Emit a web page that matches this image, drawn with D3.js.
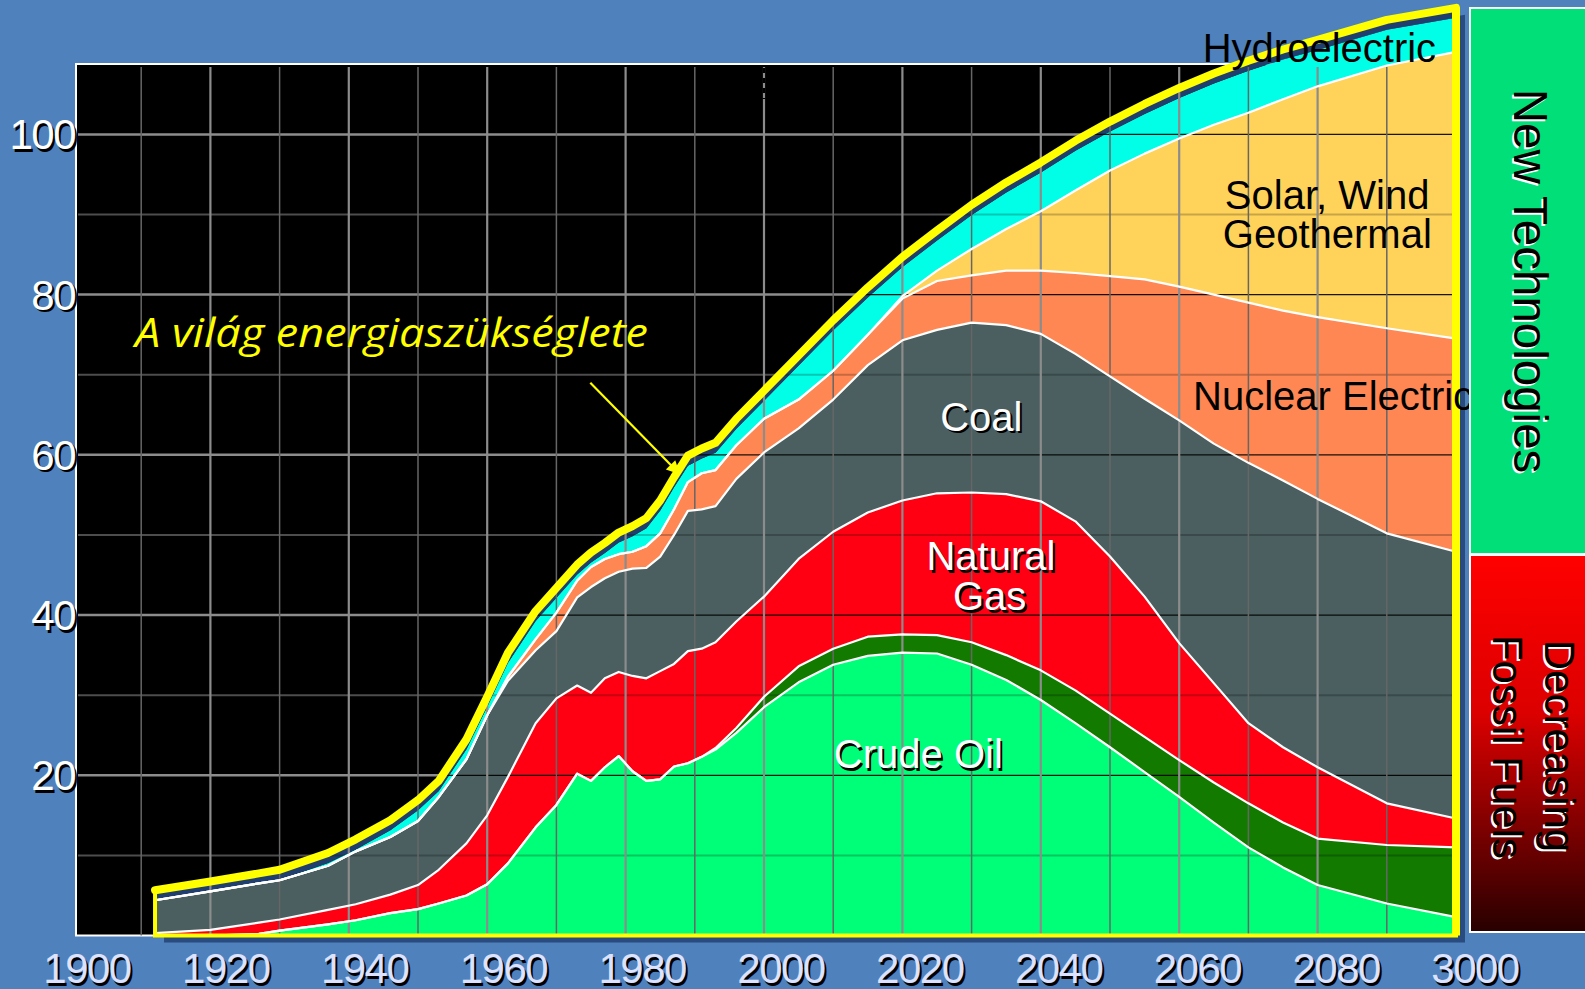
<!DOCTYPE html>
<html>
<head>
    <meta charset="utf-8">
    <style>
        body { margin: 0; background: #4f81bd; }
        svg { display: block; }
        text { font-family: "Liberation Sans", Arial, sans-serif; }
    </style>
</head>
<body>
    <svg width="1585" height="989"></svg>

<script src="https://d3js.org/d3.v7.min.js"></script>
<script>
    // years
    const years = [1912,1920,1927,1930,1937,1941,1946,1950,1953,1957,1960,1963,1967,1970,1973,1975,1977,1979,1981,1983,1985,1987,1989,1991,
                   1993,1996,2000,2005,2010,2015,2020,2025,2030,2035,2040,2045,2050,2055,2060,2065,2070,2075,2080,2090,2100]

    // layer thickness per year (stacked bottom -> top)
    const crudeOil = [0,0,0.2,0.6,1.4,1.9,2.8,3.3,4.0,5.0,6.4,9.0,13.5,16.3,20.2,19.3,21.0,22.4,20.5,19.3,19.5,21.1,21.5,22.3,
                      23.2,25.3,28.5,31.6,33.8,34.9,35.3,35.2,33.8,31.9,29.4,26.5,23.5,20.4,17.3,14.1,11.0,8.5,6.3,4.0,2.3]
    const ngl = [0,0,0,0,0,0,0,0,0,0,0,0,0,0,0,0,0,0,0,0,0,0,0,0,
                 0.2,0.6,1.3,2.0,2.0,2.4,2.3,2.3,2.8,3.1,3.7,4.1,4.2,4.4,4.6,5.0,5.5,5.6,5.8,7.3,8.7]
    const naturalGas = [0.3,0.7,1.4,1.4,1.8,2.0,2.3,3.0,4.2,6.5,8.6,10.8,13.0,13.3,11.0,11.0,11.1,10.5,11.9,12.8,13.5,12.8,14.0,13.5,
                        13.2,13.3,12.5,13.4,14.6,15.5,16.7,17.7,18.7,20.1,21.1,21.1,19.6,17.5,14.6,12.4,10.0,9.4,8.9,5.2,3.6]
    const coal = [4.1,4.8,4.9,4.9,5.5,6.6,7.2,8.0,9.1,10.5,12.5,12.0,9.1,8.4,11.0,13.2,12.5,12.5,13.4,13.8,14.3,16.1,17.5,17.4,
                  17.0,17.8,18.0,16.3,16.5,18.4,20.0,20.4,21.2,21.1,20.9,20.9,22.5,24.7,27.8,29.9,32.5,33.3,33.5,33.7,33.3]
    const nuclear = [0,0,0,0,0,0,0,0,0,0,0,0.5,1.4,2.3,2.1,2.5,2.4,2.2,2.1,2.7,2.9,3.2,3.6,4.5,
                     4.5,4.2,4.2,3.6,3.6,3.8,5.2,6.1,5.9,6.8,7.9,10.1,12.5,14.9,16.7,18.6,20.0,21.2,22.7,25.6,26.6]
    const solarWind = [0,0,0,0,0,0,0,0,0,0,0,0,0,0,0,0,0,0,0,0,0,0,0,0,
                       0,0,0,0,0,0,0.3,1.3,3.3,5.2,7.4,10.3,13.2,15.7,18.5,21.2,23.7,26.4,28.8,32.8,35.8]
    const hydro = [0,0,0,0.05,0.35,0.25,0.85,1.35,0.75,1.25,1.05,1.75,2.25,1.85,0.75,0.55,0.75,1.45,1.95,2.25,2.85,2.75,2.05,1.85,
                   2.15,2.05,2.25,4.25,5.05,4.65,3.65,3.75,4.25,4.55,4.85,4.95,4.85,4.95,5.05,5.15,5.25,4.95,4.55,4.45,4.25]
    const other = [1.25,1.25,1.25,1.25,1.25,1.25,1.25,1.25,1.25,1.25,1.25,1.25,1.25,1.25,1.25,1.25,1.25,1.25,1.25,1.25,1.25,1.25,1.25,1.25,
                   1.25,1.25,1.25,1.25,1.25,1.25,1.25,1.25,1.25,1.25,1.25,1.25,1.25,1.25,1.25,1.25,1.25,1.25,1.25,1.25,1.25]

    const yTicks = [20, 40, 60, 80, 100]
    const xTickYears = [1900,1920,1940,1960,1980,2000,2020,2040,2060,2080,2100]
    const xTickLabels = ["1900","1920","1940","1960","1980","2000","2020","2040","2060","2080","3000"]

    let svg = d3.select("svg")

    let x = d3.scaleLinear().domain([1900, 2100]).range([72, 1456])
    let xLab = d3.scaleLinear().domain([1900, 2100]).range([87, 1475])
    let y = d3.scaleLinear().domain([0, 100]).range([935.5, 134.4])

    let keys = ["oil", "ngl", "gas", "coal", "nuclear", "solar", "hydro", "other"]
    let colors = {
        oil: "#00ff78", ngl: "#137a00", gas: "#ff0013", coal: "#4b5f60",
        nuclear: "#ff8753", solar: "#ffd35a", hydro: "#00ffe6", other: "#213f6e"
    }

    let rows = years.map((yr, i) => ({
        year: yr, oil: crudeOil[i], ngl: ngl[i], gas: naturalGas[i], coal: coal[i],
        nuclear: nuclear[i], solar: solarWind[i], hydro: hydro[i], other: other[i]
    }))
    let series = d3.stack().keys(keys)(rows)
    let last = series[series.length - 1]
    let end = last[last.length - 1]

    let area = d3.area()
        .x(d => x(d.data.year))
        .y0(d => y(d[0]))
        .y1(d => y(d[1]))
    let topLine = d3.line()
        .x(d => x(d.data.year))
        .y(d => y(d[1]))
    let totalArea = d3.area()
        .x(d => x(d.data.year))
        .y0(y(0))
        .y1(d => y(d[1]))

    let defs = svg.append("defs")
    defs.append("clipPath").attr("id", "inside")
        .append("path").attr("d", totalArea(last))
    let grad = defs.append("linearGradient").attr("id", "redfade")
        .attr("x1", 0).attr("y1", 0).attr("x2", 0).attr("y2", 1)
    grad.append("stop").attr("offset", "0").attr("stop-color", "#ff0000")
    grad.append("stop").attr("offset", "0.42").attr("stop-color", "#dc0000")
    grad.append("stop").attr("offset", "1").attr("stop-color", "#280000")
    defs.append("marker").attr("id", "head")
        .attr("viewBox", "0 0 10 10").attr("refX", 9).attr("refY", 5)
        .attr("markerWidth", 7).attr("markerHeight", 6)
        .attr("markerUnits", "strokeWidth")
        .attr("orient", "auto")
        .append("path").attr("d", "M0,0 L10,5 L0,10 z").style("fill", "#ffff00")

    svg.append("rect").attr("width", 1585).attr("height", 989).style("fill", "#4f81bd")

    // drop shadow of the whole stack
    svg.append("path")
        .attr("d", totalArea(last))
        .attr("transform", "translate(9,7)")
        .style("fill", "#2a4b7e")

    // plot frame
    svg.append("rect")
        .attr("x", 76).attr("y", 64)
        .attr("width", x(2100) - 76).attr("height", y(0) - 64)
        .style("fill", "#000")
        .style("stroke", "#fff")
        .style("stroke-width", 2)

    let hVals = d3.range(10, 101, 10)
    let vYears = d3.range(1910, 2091, 10)

    // grid under the areas
    svg.append("g")
        .selectAll("line")
        .data(hVals)
        .join("line")
        .attr("x1", 78).attr("x2", x(2100))
        .attr("y1", d => y(d)).attr("y2", d => y(d))
        .style("stroke", d => d % 20 == 0 ? "#8c8c8c" : "#4d4d4d")
        .style("stroke-width", d => d % 20 == 0 ? 2.5 : 2)

    // stacked areas
    svg.append("g")
        .selectAll("path")
        .data(series)
        .join("path")
        .attr("d", area)
        .style("fill", d => colors[d.key])

    // grid seen on top of the areas
    let over = svg.append("g").attr("clip-path", "url(#inside)")
    over.selectAll("line")
        .data(hVals)
        .join("line")
        .attr("x1", 78).attr("x2", x(2100))
        .attr("y1", d => y(d)).attr("y2", d => y(d))
        .style("stroke", "#000")
        .style("stroke-opacity", d => d % 20 == 0 ? 0.9 : 0.22)
        .style("stroke-width", d => d % 20 == 0 ? 1.3 : 2)

    svg.append("g")
        .selectAll("line")
        .data(vYears)
        .join("line")
        .attr("x1", d => x(d)).attr("x2", d => x(d))
        .attr("y1", 67).attr("y2", y(0))
        .style("stroke", d => d % 20 == 0 ? "#8c8c8c" : "#666")
        .style("stroke-width", d => d % 20 == 0 ? 2.2 : 1.5)

    svg.append("line")
        .attr("x1", x(2000)).attr("x2", x(2000))
        .attr("y1", 68).attr("y2", 99)
        .style("stroke", "#000")
        .style("stroke-width", 2.5)
        .style("stroke-dasharray", "5,5")

    // white borders between layers
    svg.append("g")
        .selectAll("path")
        .data(series.filter(s => s.key != "hydro" && s.key != "other"))
        .join("path")
        .attr("d", topLine)
        .style("fill", "none")
        .style("stroke", "#fff")
        .style("stroke-width", 2.2)
        .style("stroke-linejoin", "round")

    // yellow outline of the total
    svg.append("path")
        .attr("d", totalArea(last))
        .style("fill", "none")
        .style("stroke", "#ffff00")
        .style("stroke-width", 4)
    svg.append("line")
        .attr("x1", x(2100)).attr("x2", x(2100))
        .attr("y1", y(end[1])).attr("y2", y(0))
        .style("stroke", "#ffff00")
        .style("stroke-width", 8)
    svg.append("path")
        .attr("d", topLine(last))
        .style("fill", "none")
        .style("stroke", "#ffff00")
        .style("stroke-width", 8)
        .style("stroke-linejoin", "round")
        .style("stroke-linecap", "round")

    function shadowText(g, px, py, str, o) {
        let t = g.append("g")
        ;[[o.sx || 2, o.sy || 2.5, "#000"], [0, 0, o.fill]].forEach(p => {
            t.append("text")
                .attr("x", px + p[0]).attr("y", py + p[1])
                .attr("text-anchor", o.anchor || "start")
                .style("font-size", o.size + "px")
                .style("letter-spacing", (o.ls || 0) + "px")
                .style("fill", p[2])
                .text(str)
        })
    }

    // axis labels
    let axes = svg.append("g")
    yTicks.forEach(v => shadowText(axes, 75, y(v) + 15, String(v), {anchor: "end", size: 42, ls: -1.5, fill: "#fff"}))
    xTickYears.forEach((yr, i) => shadowText(axes, xLab(yr), 983, xTickLabels[i], {anchor: "middle", size: 42, ls: -1.5, fill: "#dce2ff"}))

    // labels inside the chart
    let labs = svg.append("g")
    shadowText(labs, x(2031.4), y(63.0), "Coal", {anchor: "middle", size: 40, fill: "#fff"})
    shadowText(labs, x(2032.8), y(45.6), "Natural", {anchor: "middle", size: 40, fill: "#fff"})
    shadowText(labs, x(2032.6), y(40.6), "Gas", {anchor: "middle", size: 40, fill: "#fff"})
    shadowText(labs, x(2022.3), y(20.9), "Crude Oil", {anchor: "middle", size: 40, fill: "#fff"})

    let black = [
        ["Hydroelectric", 2063.4, 109.0],
        ["Solar, Wind", 2066.6, 90.7],
        ["Geothermal", 2066.3, 85.8],
        ["Nuclear Electric", 2062.0, 65.6]
    ]
    labs.selectAll(".blk")
        .data(black)
        .join("text")
        .attr("class", "blk")
        .attr("x", d => x(d[1]))
        .attr("y", d => y(d[2]))
        .style("font-size", "40px")
        .style("fill", "#000")
        .text(d => d[0])

    labs.append("text")
        .attr("x", x(1909.1)).attr("y", y(73.5))
        .attr("textLength", 513)
        .attr("lengthAdjust", "spacingAndGlyphs")
        .style("font-family", "'Open Sans', 'Noto Sans', sans-serif")
        .style("font-style", "italic")
        .style("font-size", "40px")
        .style("fill", "#ffff00")
        .text("A világ energiaszükséglete")

    labs.append("line")
        .attr("x1", x(1974.9)).attr("y1", y(69.0))
        .attr("x2", x(1987.7)).attr("y2", y(57.7))
        .style("stroke", "#ffff00")
        .style("stroke-width", 2.2)
        .attr("marker-end", "url(#head)")

    // side panel
    let side = svg.append("g")
    side.append("rect")
        .attr("x", 1470).attr("y", 8).attr("width", 117).attr("height", 546)
        .style("fill", "#00df78").style("stroke", "#f0fff4").style("stroke-width", 2)
    side.append("rect")
        .attr("x", 1470).attr("y", 555).attr("width", 117).attr("height", 377)
        .style("fill", "url(#redfade)").style("stroke", "#fff").style("stroke-width", 2)

    let vert = [
        ["New Technologies", 1514, 281, 47.5],
        ["Decreasing", 1545, 746, 42],
        ["Fossil Fuels", 1493, 747, 42]
    ]
    ;[["#fff", 2], ["#000", 0]].forEach(s => {
        side.append("g")
            .selectAll("text")
            .data(vert)
            .join("text")
            .attr("transform", d => "translate(" + (d[1] - s[1]) + "," + (d[2] + s[1]) + ") rotate(90)")
            .attr("text-anchor", "middle")
            .style("font-size", d => d[3] + "px")
            .style("fill", s[0])
            .text(d => d[0])
    })
</script>
</body>
</html>
